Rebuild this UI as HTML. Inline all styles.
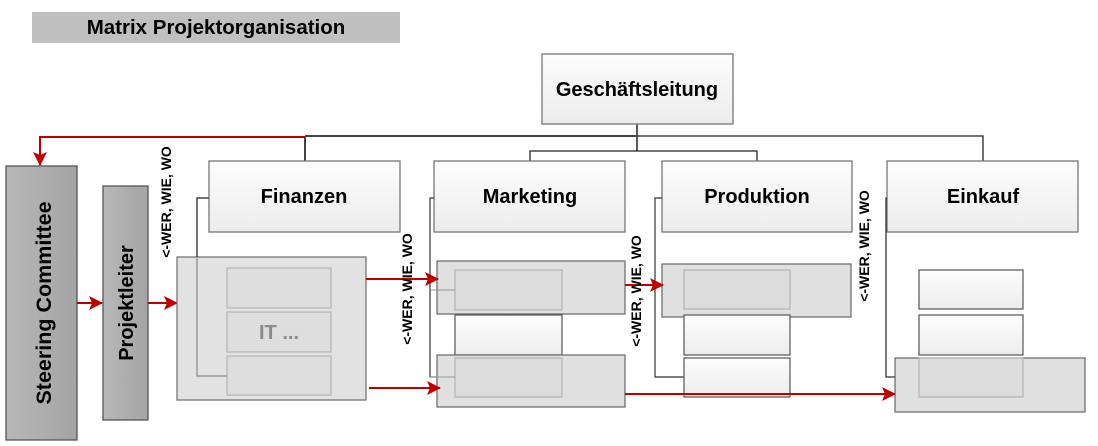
<!DOCTYPE html>
<html><head><meta charset="utf-8"><style>
html,body{margin:0;padding:0;background:#fff;}
svg{display:block;font-family:"Liberation Sans",sans-serif;}
</style></head><body>
<svg width="1098" height="446" viewBox="0 0 1098 446" xmlns="http://www.w3.org/2000/svg">
<defs>
<linearGradient id="wg" x1="0" y1="0" x2="0" y2="1"><stop offset="0" stop-color="#fdfdfd"/><stop offset="1" stop-color="#ececec"/></linearGradient>
<linearGradient id="dg" x1="0" y1="0" x2="1" y2="0"><stop offset="0" stop-color="#b8b8b8"/><stop offset="1" stop-color="#a4a4a4"/></linearGradient>
<marker id="ar" markerWidth="14" markerHeight="14" refX="13" refY="7" orient="auto" markerUnits="userSpaceOnUse"><path d="M0,0 L14,7 L0,14 L3,7 Z" fill="#c00000"/></marker>
</defs>
<rect x="32" y="12" width="368" height="31" fill="#c0c0c0"/>
<text x="216" y="34" font-size="20.5" font-weight="bold" text-anchor="middle" fill="#000">Matrix Projektorganisation</text>

<line x1="637" y1="124" x2="637" y2="151" stroke="#222" stroke-width="1.5"/>
<line x1="305" y1="136" x2="637" y2="136" stroke="#444" stroke-width="2"/>
<polyline points="637,136 983,136 983,161" fill="none" stroke="#222" stroke-width="1.3"/>
<line x1="305" y1="136" x2="305" y2="161" stroke="#444" stroke-width="2"/>
<polyline points="530,161 530,151 757,151 757,161" fill="none" stroke="#222" stroke-width="1.3"/>
<polyline points="305,137 40,137 40,165" fill="none" stroke="#c00000" stroke-width="2" marker-end="url(#ar)"/>

<rect x="542" y="54" width="191" height="70" fill="url(#wg)" stroke="#777" stroke-width="1.3"/>
<text x="637" y="96" font-size="20" font-weight="bold" text-anchor="middle">Geschäftsleitung</text>

<rect x="6" y="166" width="71" height="274" fill="url(#dg)" stroke="#555" stroke-width="1.3"/>
<text transform="translate(51,303) rotate(-90)" font-size="21.5" font-weight="bold" text-anchor="middle">Steering Committee</text>
<rect x="103" y="186" width="45" height="234" fill="url(#dg)" stroke="#555" stroke-width="1.3"/>
<text transform="translate(133,303) rotate(-90)" font-size="20" font-weight="bold" text-anchor="middle">Projektleiter</text>
<line x1="77" y1="303" x2="102" y2="303" stroke="#c00000" stroke-width="2" marker-end="url(#ar)"/>
<line x1="148" y1="303" x2="177" y2="303" stroke="#c00000" stroke-width="2" marker-end="url(#ar)"/>

<g font-size="20" font-weight="bold" text-anchor="middle">
<rect x="209" y="161" width="191" height="71" fill="url(#wg)" stroke="#777" stroke-width="1.3"/>
<text x="304" y="203">Finanzen</text>
<rect x="434" y="161" width="191" height="71" fill="url(#wg)" stroke="#777" stroke-width="1.3"/>
<text x="530" y="203">Marketing</text>
<rect x="662" y="161" width="190" height="71" fill="url(#wg)" stroke="#777" stroke-width="1.3"/>
<text x="757" y="203">Produktion</text>
<rect x="887" y="161" width="191" height="71" fill="url(#wg)" stroke="#777" stroke-width="1.3"/>
<text x="983" y="203">Einkauf</text>
</g>

<rect x="177" y="257" width="189" height="143" fill="#e2e2e2" stroke="#777" stroke-width="1.3"/>
<rect x="227" y="268" width="104" height="40" fill="#dedede" stroke="#aaa" stroke-width="1"/>
<rect x="227" y="312" width="104" height="40" fill="#dedede" stroke="#aaa" stroke-width="1"/>
<rect x="227" y="356" width="104" height="39" fill="#dedede" stroke="#aaa" stroke-width="1"/>
<text x="279" y="339" font-size="20" font-weight="bold" fill="#8a8a8a" text-anchor="middle">IT ...</text>
<polyline points="209,198 197,198 197,257" fill="none" stroke="#444" stroke-width="1.5"/>
<polyline points="197,257 197,376 227,376 M197,288 227,288 M197,332 227,332" fill="none" stroke="#8a8a8a" stroke-width="1.2"/>

<polyline points="434,198 430,198 430,377 455,377 M430,290 455,290 M430,335 455,335" fill="none" stroke="#333" stroke-width="1.2"/>
<rect x="437" y="261" width="188" height="53" fill="#e0e0e0" stroke="#666" stroke-width="1.2"/>
<rect x="455" y="270" width="107" height="40" fill="#dcdcdc" stroke="#aaa" stroke-width="1"/>
<rect x="455" y="315" width="107" height="40" fill="url(#wg)" stroke="#555" stroke-width="1.2"/>
<rect x="437" y="355" width="188" height="52" fill="#e0e0e0" stroke="#666" stroke-width="1.2"/>
<rect x="455" y="358" width="107" height="39" fill="#dcdcdc" stroke="#aaa" stroke-width="1"/>
<line x1="430" y1="290" x2="455" y2="290" stroke="#999" stroke-width="1"/>
<line x1="430" y1="377" x2="455" y2="377" stroke="#999" stroke-width="1"/>

<polyline points="662,198 655,198 655,377 684,377 M655,335 684,335 M655,290 684,290" fill="none" stroke="#333" stroke-width="1.2"/>
<rect x="662" y="264" width="189" height="53" fill="#e0e0e0" stroke="#666" stroke-width="1.2"/>
<rect x="684" y="270" width="106" height="39" fill="#dcdcdc" stroke="#aaa" stroke-width="1"/>
<rect x="684" y="315" width="106" height="40" fill="url(#wg)" stroke="#555" stroke-width="1.2"/>
<rect x="684" y="358" width="106" height="39" fill="url(#wg)" stroke="#555" stroke-width="1.2"/>

<polyline points="887,198 886,198 886,377 919,377 M886,335 919,335 M886,290 919,290" fill="none" stroke="#333" stroke-width="1.3"/>
<rect x="919" y="270" width="104" height="39" fill="url(#wg)" stroke="#555" stroke-width="1.2"/>
<rect x="919" y="315" width="104" height="40" fill="url(#wg)" stroke="#555" stroke-width="1.2"/>
<rect x="895" y="358" width="190" height="54" fill="#e0e0e0" stroke="#666" stroke-width="1.2"/>
<rect x="919" y="358" width="104" height="39" fill="#dcdcdc" stroke="#aaa" stroke-width="1"/>

<line x1="366" y1="279" x2="438" y2="279" stroke="#c00000" stroke-width="2" marker-end="url(#ar)"/>
<line x1="369" y1="388" x2="440" y2="388" stroke="#c00000" stroke-width="2" marker-end="url(#ar)"/>
<line x1="625" y1="285" x2="663" y2="285" stroke="#c00000" stroke-width="2" marker-end="url(#ar)"/>
<line x1="625" y1="394" x2="895" y2="394" stroke="#c00000" stroke-width="2" marker-end="url(#ar)"/>

<g font-size="14" font-weight="bold" text-anchor="middle">
<text transform="translate(171,202) rotate(-90)">&lt;-WER, WIE, WO</text>
<text transform="translate(412,289) rotate(-90)">&lt;-WER, WIE, WO</text>
<text transform="translate(641,291) rotate(-90)">&lt;-WER, WIE, WO</text>
<text transform="translate(869,246) rotate(-90)">&lt;-WER, WIE, WO</text>
</g>
</svg>
</body></html>
